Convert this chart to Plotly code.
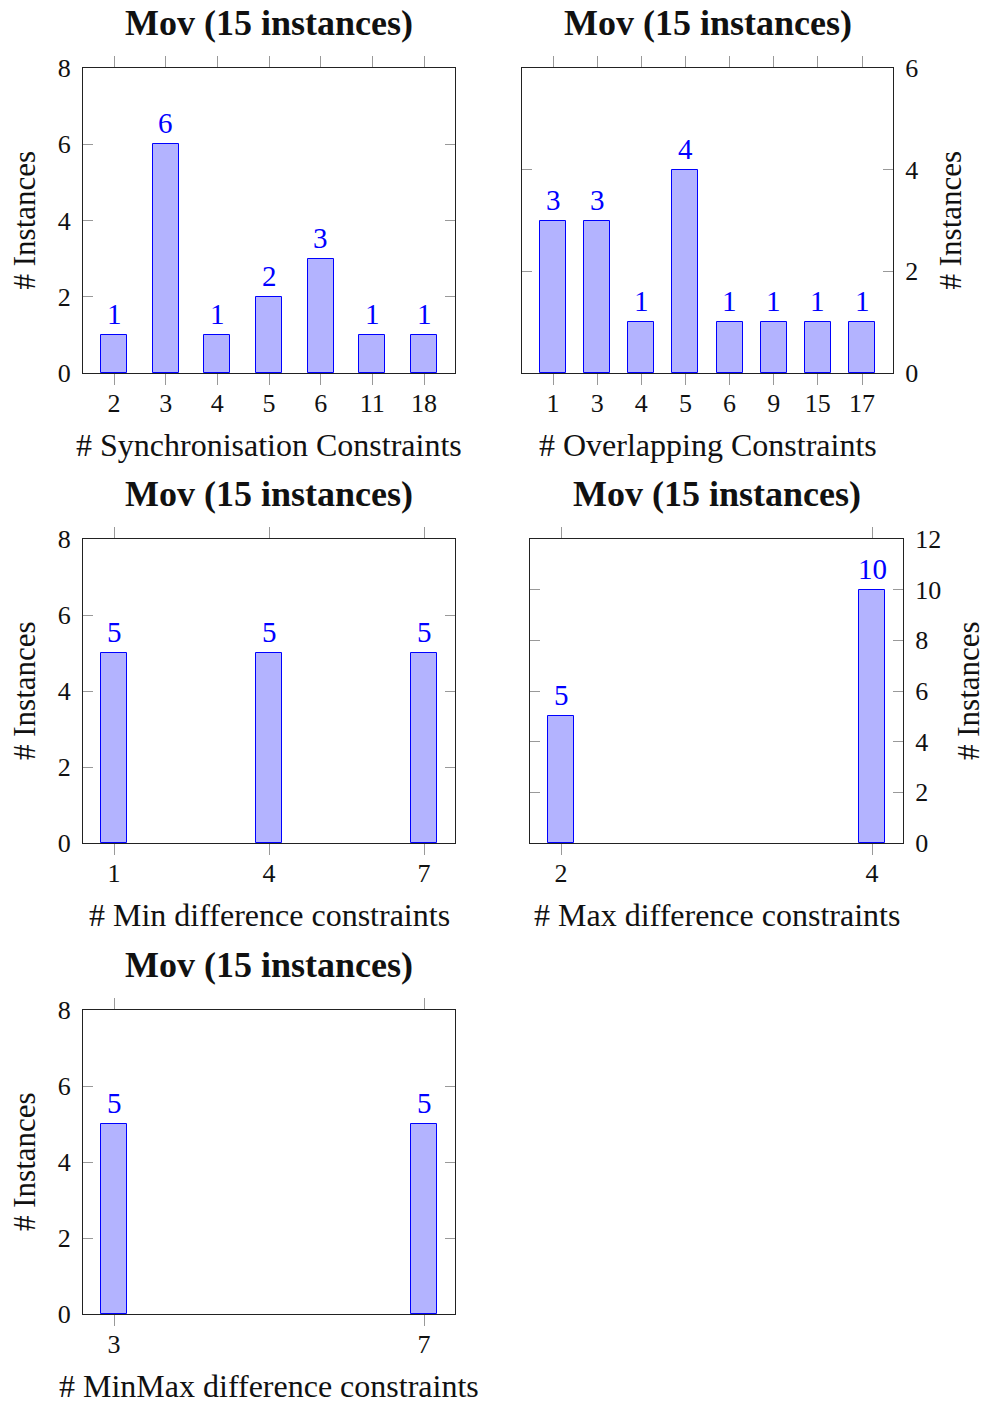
import plotly.graph_objects as go

# ---------------- data ----------------
title_text = "Mov (15 instances)"
y_title = "# Instances"

sync_cats = ["2", "3", "4", "5", "6", "11", "18"]
sync_vals = [1, 6, 1, 2, 3, 1, 1]

overlap_cats = ["1", "3", "4", "5", "6", "9", "15", "17"]
overlap_vals = [3, 3, 1, 4, 1, 1, 1, 1]

mindiff_cats = ["1", "4", "7"]
mindiff_vals = [5, 5, 5]

maxdiff_cats = ["2", "4"]
maxdiff_vals = [5, 10]

minmax_cats = ["3", "7"]
minmax_vals = [5, 5]

x_titles = [
    "# Synchronisation Constraints",
    "# Overlapping Constraints",
    "# Min difference constraints",
    "# Max difference constraints",
    "# MinMax difference constraints",
]
y_max = [8, 6, 8, 12, 8]

# ---------------- layout constants (pixels) ----------------
W, H = 989, 1403
FONT = "Liberation Serif"
FILL = "rgb(179,179,255)"
EDGE = "rgb(0,0,255)"
LABEL = "rgb(0,0,255)"

# (left, right, top, bottom, y-axis side)
boxes = [
    (83, 455, 68, 373, "left"),
    (522, 893, 68, 373, "right"),
    (83, 455, 539, 843, "left"),
    (530, 903, 539, 843, "right"),
    (83, 455, 1010, 1314, "left"),
]
series = [
    (sync_cats, sync_vals),
    (overlap_cats, overlap_vals),
    (mindiff_cats, mindiff_vals),
    (maxdiff_cats, maxdiff_vals),
    (minmax_cats, minmax_vals),
]
ytitle_x = [24, 950, 24, 968, 24]

def px(x):
    return x / W

def py(y):
    return 1 - y / H

fig = go.Figure()
annotations = []
EDGE_PAD = 31   # px from frame to first/last bar centre
BAR_PX = 26     # bar width in px

for i, ((cats, vals), (l, r, t, b, side), xt, ym, ylx) in enumerate(
        zip(series, boxes, x_titles, y_max, ytitle_x), start=1):
    n = len(cats)
    wpx = r - l
    ppu = (wpx - 2 * EDGE_PAD) / (n - 1)
    pad_u = EDGE_PAD / ppu
    xa = "x" if i == 1 else f"x{i}"
    ya = "y" if i == 1 else f"y{i}"
    fig.add_trace(go.Bar(
        x=cats, y=vals, xaxis=xa, yaxis=ya,
        width=BAR_PX / ppu,
        marker=dict(color=FILL, line=dict(color=EDGE, width=1)),
        showlegend=False, hoverinfo="x+y",
    ))
    xkey = "xaxis" if i == 1 else f"xaxis{i}"
    ykey = "yaxis" if i == 1 else f"yaxis{i}"
    fig.update_layout({
        xkey: dict(
            domain=[px(l), px(r)], anchor=ya, type="category",
            range=[-pad_u, n - 1 + pad_u], automargin=False,
            showline=True, linecolor="#222", linewidth=1, mirror="ticks",
            ticks="outside", ticklen=11, tickcolor="#999", tickwidth=1,
            showgrid=False, zeroline=False,
            tickfont=dict(family=FONT, size=26, color="#111"),
            ticklabelstandoff=-4, fixedrange=True,
        ),
        ykey: dict(
            domain=[py(b), py(t)], anchor=xa, side=side,
            range=[0, ym], dtick=2, tick0=0, automargin=False,
            showline=True, linecolor="#222", linewidth=1, mirror="ticks",
            ticks="inside", ticklen=10, tickcolor="#999", tickwidth=1,
            showgrid=False, zeroline=False,
            tickfont=dict(family=FONT, size=26, color="#111"),
            ticklabelstandoff=6, fixedrange=True,
        ),
    })
    cx = (l + r) / 2
    # title
    annotations.append(dict(
        xref="paper", yref="paper", x=px(cx), y=py(t - 45),
        text=f"<b>{title_text}</b>", showarrow=False,
        xanchor="center", yanchor="middle",
        font=dict(family=FONT, size=36, color="#111"),
    ))
    # x title
    annotations.append(dict(
        xref="paper", yref="paper", x=px(cx), y=py(b + 72),
        text=xt, showarrow=False, xanchor="center", yanchor="middle",
        font=dict(family=FONT, size=32, color="#111"),
    ))
    # y title
    annotations.append(dict(
        xref="paper", yref="paper", x=px(ylx), y=py((t + b) / 2),
        text=y_title, showarrow=False, textangle=-90,
        xanchor="center", yanchor="middle",
        font=dict(family=FONT, size=31, color="#111"),
    ))
    # bar value labels
    for k, v in enumerate(vals):
        annotations.append(dict(
            xref=xa, yref=ya, x=k, y=v, text=str(vals[k]), showarrow=False,
            xanchor="center", yanchor="bottom", yshift=3,
            font=dict(family=FONT, size=29, color=LABEL),
        ))

fig.update_layout(
    width=W, height=H, autosize=False,
    margin=dict(l=0, r=0, t=0, b=0, autoexpand=False),
    paper_bgcolor="white", plot_bgcolor="white",
    bargap=0, annotations=annotations,
    font=dict(family=FONT),
)

fig.write_html("out.html")
